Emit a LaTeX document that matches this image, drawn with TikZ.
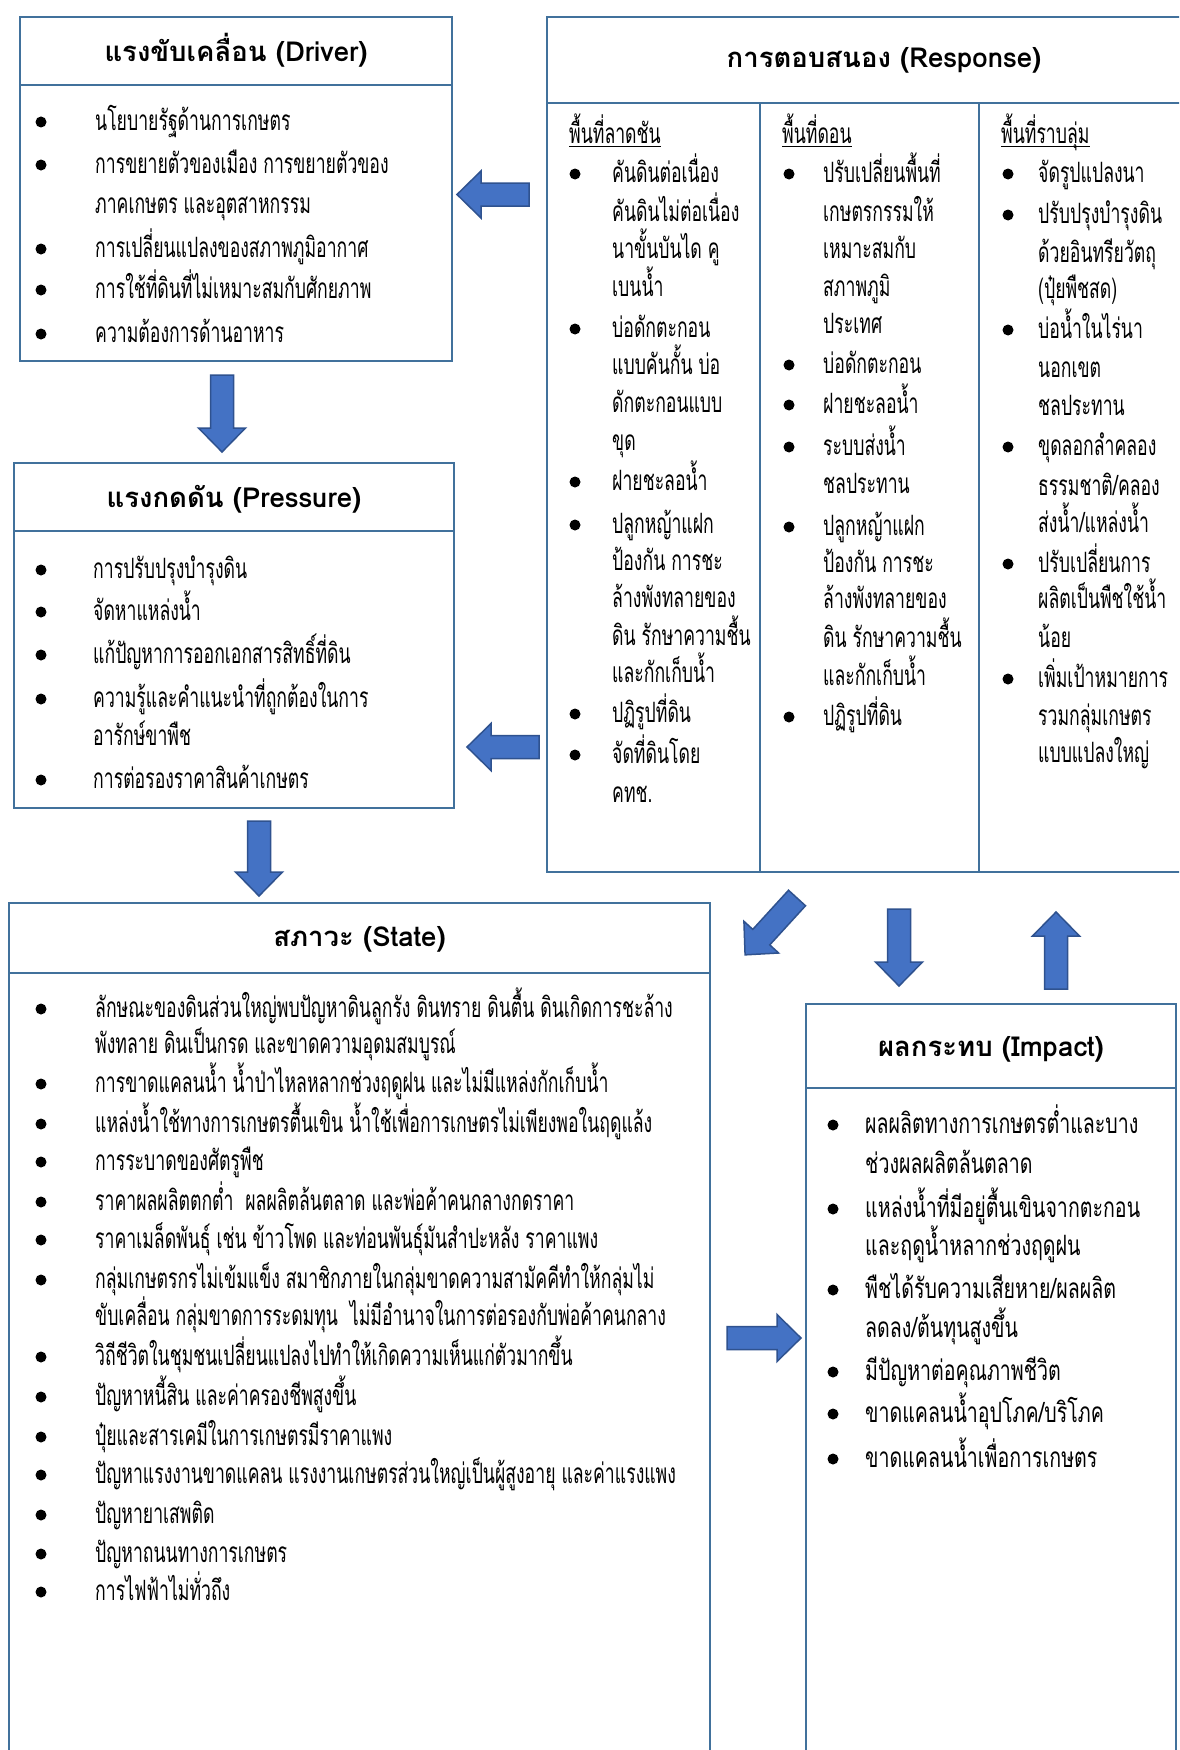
\documentclass[tikz,border=0pt]{standalone}
\usepackage{fontspec}
\newfontfamily\thaibody[Script=Thai,FakeStretch=0.63]{Loma}
\newfontfamily\thaiimp[Script=Thai,FakeStretch=0.70]{Loma}
\newfontfamily\thaititle[Script=Thai]{Loma Bold}
\definecolor{boxc}{RGB}{65,113,156}
\definecolor{arrf}{RGB}{68,114,196}
\definecolor{arrd}{RGB}{47,82,143}
\newcommand\myul[1]{\setbox0\hbox{#1}\rlap{\rule[-4pt]{\wd0}{1.3pt}}\box0}
\newcommand\barrow[3]{%
 \draw[arrsty, shift={(#1)}, rotate=#2] (0,-11.5) -- ({#3-24},-11.5) -- ({#3-24},-23.5) -- (#3,0) -- ({#3-24},23.5) -- ({#3-24},11.5) -- (0,11.5) -- cycle;}
\newcommand\Bul[3]{\node[dot] (#1) at (#2,#3) {};}
\newcommand\Lin[4]{\node[txt] (#1) at (#2,#3) {#4};}
\newcommand\Lim[4]{\node[txt,font=\thaiimp\fontsize{28}{32}\selectfont] (#1) at (#2,#3) {#4};}
\begin{document}
\begin{tikzpicture}[x=1pt,y=-1pt,
 boxl/.style={draw=boxc,line width=2.6pt},
 arrsty/.style={fill=arrf,draw=arrd,line width=1.5pt,line join=miter},
 ttl/.style={font=\thaititle\fontsize{27.5}{32}\selectfont, inner sep=0, anchor=center, yshift=3pt},
 txt/.style={font=\thaibody\fontsize{28}{32}\selectfont, inner sep=0, anchor=mid west, yshift=-8pt},
 dot/.style={circle,fill=black,inner sep=0,minimum size=11pt, yshift=-2pt}]
\useasboundingbox (0,0) rectangle (1179,1750);
\clip (0,0) rectangle (1179,1750);
\fill[white] (0,0) rectangle (1179,1750);

% ---------- Driver ----------
\draw[boxl] (20,17) rectangle (452,361);
\draw[boxl] (20,85) -- (452,85);
\node[ttl] (drvT) at (236,53) {แรงขับเคลื่อน (Driver)};
\Bul{d1b}{41}{120}\Lin{d1}{95}{120}{นโยบายรัฐด้านการเกษตร}
\Bul{d2b}{41}{163}\Lin{d2}{95}{163}{การขยายตัวของเมือง การขยายตัวของ}
\Lin{d2c}{95}{203}{ภาคเกษตร และอุตสาหกรรม}
\Bul{d3b}{41}{247}\Lin{d3}{95}{247}{การเปลี่ยนแปลงของสภาพภูมิอากาศ}
\Bul{d4b}{41}{288}\Lin{d4}{95}{288}{การใช้ที่ดินที่ไม่เหมาะสมกับศักยภาพ}
\Bul{d5b}{41}{332}\Lin{d5}{95}{332}{ความต้องการด้านอาหาร}

% ---------- Pressure ----------
\draw[boxl] (14,463) rectangle (454,808);
\draw[boxl] (14,531) -- (454,531);
\node[ttl] (prsT) at (234,502) {แรงกดดัน (Pressure)};
\Bul{p1b}{41}{568}\Lin{p1}{93}{568}{การปรับปรุงบำรุงดิน}
\Bul{p2b}{41}{610}\Lin{p2}{93}{610}{จัดหาแหล่งน้ำ}
\Bul{p3b}{41}{653}\Lin{p3}{93}{653}{แก้ปัญหาการออกเอกสารสิทธิ์ที่ดิน}
\Bul{p4b}{41}{697}\Lin{p4}{93}{697}{ความรู้และคำแนะนำที่ถูกต้องในการ}
\Lin{p4c}{93}{735}{อารักษ์ขาพืช}
\Bul{p5b}{41}{778}\Lin{p5}{93}{778}{การต่อรองราคาสินค้าเกษตร}

% ---------- Response ----------
\draw[boxl] (547,17) rectangle (1225,872);
\draw[boxl] (547,103) -- (1225,103);
\draw[boxl] (760,103) -- (760,872);
\draw[boxl] (979,103) -- (979,872);
\node[ttl] (rspT) at (884,63) {การตอบสนอง (Response)};
\Lin{h1}{569}{133}{\myul{พื้นที่ลาดชัน}}
\Lin{h2}{782}{133}{\myul{พื้นที่ดอน}}
\Lin{h3}{1001}{133}{\myul{พื้นที่ราบลุ่ม}}
% column 1
\Bul{a1b}{575}{172}\Lin{a1}{612}{172}{คันดินต่อเนื่อง}
\Lin{a1c}{612}{211}{คันดินไม่ต่อเนื่อง}
\Lin{a1d}{612}{248}{นาขั้นบันได คู}
\Lin{a1e}{612}{286}{เบนน้ำ}
\Bul{a2b}{575}{327}\Lin{a2}{612}{327}{บ่อดักตะกอน}
\Lin{a2c}{612}{364}{แบบคันกั้น บ่อ}
\Lin{a2d}{612}{402}{ดักตะกอนแบบ}
\Lin{a2e}{612}{440}{ขุด}
\Bul{a3b}{575}{480}\Lin{a3}{612}{480}{ฝายชะลอน้ำ}
\Bul{a4b}{575}{523}\Lin{a4}{612}{523}{ปลูกหญ้าแฝก}
\Lin{a4c}{612}{560}{ป้องกัน การชะ}
\Lin{a4d}{612}{597}{ล้างพังทลายของ}
\Lin{a4e}{612}{635}{ดิน รักษาความชื้น}
\Lin{a4f}{612}{672}{และกักเก็บน้ำ}
\Bul{a5b}{575}{712}\Lin{a5}{612}{712}{ปฏิรูปที่ดิน}
\Bul{a6b}{575}{753}\Lin{a6}{612}{753}{จัดที่ดินโดย}
\Lin{a6c}{612}{792}{คทช.}
% column 2
\Bul{b1b}{789}{172}\Lin{b1}{823}{172}{ปรับเปลี่ยนพื้นที่}
\Lin{b1c}{823}{211}{เกษตรกรรมให้}
\Lin{b1d}{823}{248}{เหมาะสมกับ}
\Lin{b1e}{823}{286}{สภาพภูมิ}
\Lin{b1f}{823}{323}{ประเทศ}
\Bul{b2b}{789}{363}\Lin{b2}{823}{363}{บ่อดักตะกอน}
\Bul{b3b}{789}{403}\Lin{b3}{823}{403}{ฝายชะลอน้ำ}
\Bul{b4b}{789}{445}\Lin{b4}{823}{445}{ระบบส่งน้ำ}
\Lin{b4c}{823}{483}{ชลประทาน}
\Bul{b5b}{789}{525}\Lin{b5}{823}{525}{ปลูกหญ้าแฝก}
\Lin{b5c}{823}{562}{ป้องกัน การชะ}
\Lin{b5d}{823}{598}{ล้างพังทลายของ}
\Lin{b5e}{823}{637}{ดิน รักษาความชื้น}
\Lin{b5f}{823}{675}{และกักเก็บน้ำ}
\Bul{b6b}{789}{715}\Lin{b6}{823}{715}{ปฏิรูปที่ดิน}
% column 3
\Bul{c1b}{1008}{172}\Lin{c1}{1038}{172}{จัดรูปแปลงนา}
\Bul{c2b}{1008}{213}\Lin{c2}{1038}{213}{ปรับปรุงบำรุงดิน}
\Lin{c2c}{1038}{252}{ด้วยอินทรียวัตถุ}
\Lin{c2d}{1038}{288}{(ปุ๋ยพืชสด)}
\Bul{c3b}{1008}{328}\Lin{c3}{1038}{328}{บ่อน้ำในไร่นา}
\Lin{c3c}{1038}{367}{นอกเขต}
\Lin{c3d}{1038}{405}{ชลประทาน}
\Bul{c4b}{1008}{445}\Lin{c4}{1038}{445}{ขุดลอกลำคลอง}
\Lin{c4c}{1038}{485}{ธรรมชาติ/คลอง}
\Lin{c4d}{1038}{522}{ส่งน้ำ/แหล่งน้ำ}
\Bul{c5b}{1008}{562}\Lin{c5}{1038}{562}{ปรับเปลี่ยนการ}
\Lin{c5c}{1038}{598}{ผลิตเป็นพืชใช้น้ำ}
\Lin{c5d}{1038}{637}{น้อย}
\Bul{c6b}{1008}{677}\Lin{c6}{1038}{677}{เพิ่มเป้าหมายการ}
\Lin{c6c}{1038}{715}{รวมกลุ่มเกษตร}
\Lin{c6d}{1038}{752}{แบบแปลงใหญ่}

% ---------- State ----------
\draw[boxl] (9,1775) -- (9,903) -- (710,903) -- (710,1775);
\draw[boxl] (9,973) -- (710,973);
\node[ttl] (stT) at (359.5,942) {สภาวะ (State)};
\Bul{s1b}{41}{1007}\Lin{s1}{95}{1007}{ลักษณะของดินส่วนใหญ่พบปัญหาดินลูกรัง ดินทราย ดินตื้น ดินเกิดการชะล้าง}
\Lin{s1c}{95}{1043}{พังทลาย ดินเป็นกรด และขาดความอุดมสมบูรณ์}
\Bul{s2b}{41}{1082}\Lin{s2}{95}{1082}{การขาดแคลนน้ำ น้ำป่าไหลหลากช่วงฤดูฝน และไม่มีแหล่งกักเก็บน้ำ}
\Bul{s3b}{41}{1122}\Lin{s3}{95}{1122}{แหล่งน้ำใช้ทางการเกษตรตื้นเขิน น้ำใช้เพื่อการเกษตรไม่เพียงพอในฤดูแล้ง}
\Bul{s4b}{41}{1160}\Lin{s4}{95}{1160}{การระบาดของศัตรูพืช}
\Bul{s5b}{41}{1200}\Lin{s5}{95}{1200}{ราคาผลผลิตตกต่ำ\ \ ผลผลิตล้นตลาด และพ่อค้าคนกลางกดราคา}
\Bul{s6b}{41}{1238}\Lin{s6}{95}{1238}{ราคาเมล็ดพันธุ์ เช่น ข้าวโพด และท่อนพันธุ์มันสำปะหลัง ราคาแพง}
\Bul{s7b}{41}{1278}\Lin{s7}{95}{1278}{กลุ่มเกษตรกรไม่เข้มแข็ง สมาชิกภายในกลุ่มขาดความสามัคคีทำให้กลุ่มไม่}
\Lin{s7c}{95}{1315}{ขับเคลื่อน กลุ่มขาดการระดมทุน\ \ ไม่มีอำนาจในการต่อรองกับพ่อค้าคนกลาง}
\Bul{s8b}{41}{1355}\Lin{s8}{95}{1355}{วิถีชีวิตในชุมชนเปลี่ยนแปลงไปทำให้เกิดความเห็นแก่ตัวมากขึ้น}
\Bul{s9b}{41}{1395}\Lin{s9}{95}{1395}{ปัญหาหนี้สิน และค่าครองชีพสูงขึ้น}
\Bul{s10b}{41}{1435}\Lin{s10}{95}{1435}{ปุ๋ยและสารเคมีในการเกษตรมีราคาแพง}
\Bul{s11b}{41}{1473}\Lin{s11}{95}{1473}{ปัญหาแรงงานขาดแคลน แรงงานเกษตรส่วนใหญ่เป็นผู้สูงอายุ และค่าแรงแพง}
\Bul{s12b}{41}{1513}\Lin{s12}{95}{1513}{ปัญหายาเสพติด}
\Bul{s13b}{41}{1552}\Lin{s13}{95}{1552}{ปัญหาถนนทางการเกษตร}
\Bul{s14b}{41}{1590}\Lin{s14}{95}{1590}{การไฟฟ้าไม่ทั่วถึง}

% ---------- Impact ----------
\draw[boxl] (806,1775) -- (806,1004) -- (1176,1004) -- (1176,1775);
\draw[boxl] (806,1088) -- (1176,1088);
\node[ttl] (impT) at (991,1052) {ผลกระทบ (Impact)};
\Bul{i1b}{833}{1123}\Lim{i1}{865}{1123}{ผลผลิตทางการเกษตรต่ำและบาง}
\Lim{i1c}{865}{1163}{ช่วงผลผลิตล้นตลาด}
\Bul{i2b}{833}{1207}\Lim{i2}{865}{1207}{แหล่งน้ำที่มีอยู่ตื้นเขินจากตะกอน}
\Lim{i2c}{865}{1245}{และฤดูน้ำหลากช่วงฤดูฝน}
\Bul{i3b}{833}{1288}\Lim{i3}{865}{1288}{พืชได้รับความเสียหาย/ผลผลิต}
\Lim{i3c}{865}{1327}{ลดลง/ต้นทุนสูงขึ้น}
\Bul{i4b}{833}{1370}\Lim{i4}{865}{1370}{มีปัญหาต่อคุณภาพชีวิต}
\Bul{i5b}{833}{1412}\Lim{i5}{865}{1412}{ขาดแคลนน้ำอุปโภค/บริโภค}
\Bul{i6b}{833}{1457}\Lim{i6}{865}{1457}{ขาดแคลนน้ำเพื่อการเกษตร}

% ---------- Block arrows ----------
\barrow{529,194.5}{180}{72}
\barrow{222,375}{-90}{77}
\barrow{539,747}{180}{72}
\barrow{259,821}{-90}{75}
\barrow{797,898}{-132.4}{77}
\barrow{899,909}{-90}{77}
\barrow{1056,989}{90}{77}
\barrow{727,1338}{0}{74}
\end{tikzpicture}
\end{document}
